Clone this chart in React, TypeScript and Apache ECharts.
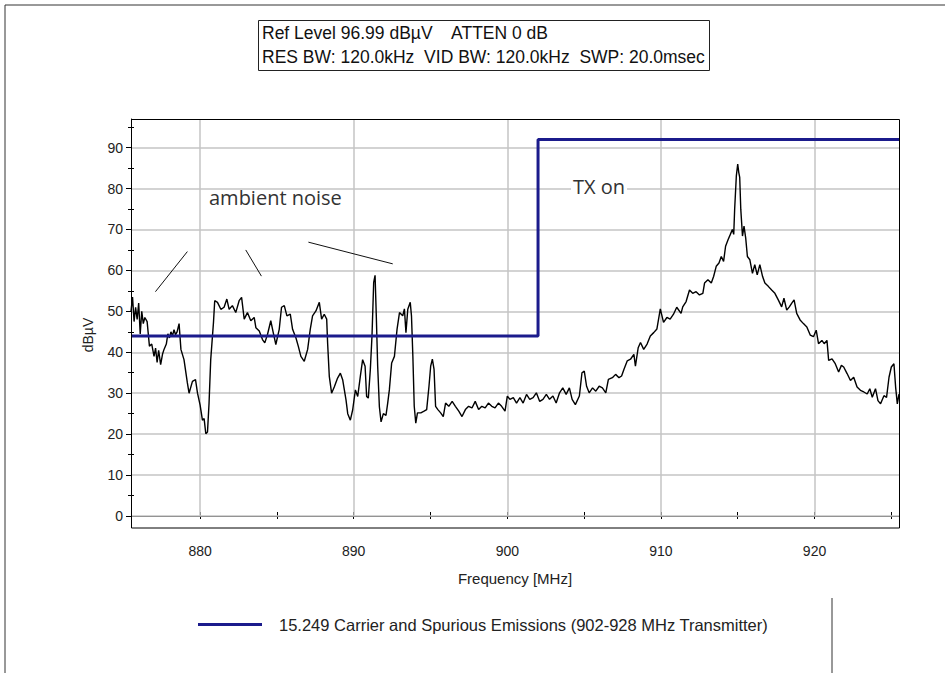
import React, { useEffect, useRef } from "react";
import * as echarts from "echarts";

// ---- Data ----
const limitName = "15.249 Carrier and Spurious Emissions (902-928 MHz Transmitter)";
const limitFreq = [875.5, 902, 902, 925.5];
const limitLevel = [44, 44, 92, 92];

const xLabelValues = [880, 890, 900, 910, 920];
const xTickValues = [880, 885, 890, 895, 900, 905, 910, 915, 920, 925];
const yLabelValues = [0, 10, 20, 30, 40, 50, 60, 70, 80, 90];
const yMinorValues = [5, 15, 25, 35, 45, 55, 65, 75, 85, 95];

const traceFreq = [
  875.5, 875.6, 875.7, 875.8, 875.9, 876.0, 876.1, 876.2, 876.3, 876.4, 876.55, 876.7, 876.85, 877.0, 877.1,
  877.2, 877.3, 877.43, 877.55, 877.65, 877.8, 877.9, 878.0, 878.1, 878.2, 878.3, 878.4, 878.5, 878.63, 878.75,
  878.95, 879.17, 879.28, 879.5, 879.7, 879.83, 880.0, 880.15, 880.26, 880.37, 880.48, 880.58, 880.69, 880.87, 880.95,
  881.13, 881.35, 881.56, 881.74, 881.89, 882.1, 882.32, 882.54, 882.7, 882.87, 883.08, 883.3, 883.52, 883.63, 883.85,
  884.06, 884.21, 884.39, 884.6, 884.76, 884.93, 885.15, 885.3, 885.48, 885.65, 885.87, 886.02, 886.24, 886.39, 886.56,
  886.78, 887.0, 887.17, 887.32, 887.54, 887.76, 887.91, 888.08, 888.24, 888.3, 888.41, 888.56, 888.74, 888.95, 889.13,
  889.28, 889.39, 889.5, 889.61, 889.78, 889.93, 890.11, 890.26, 890.43, 890.58, 890.74, 890.84, 890.95, 891.08, 891.19,
  891.3, 891.39, 891.47, 891.56, 891.67, 891.78, 891.93, 892.1, 892.21, 892.32, 892.47, 892.65, 892.82, 892.98, 893.19,
  893.3, 893.4, 893.52, 893.68, 893.76, 893.85, 893.94, 894.04, 894.15, 894.37, 894.58, 894.75, 894.9, 895.01, 895.12,
  895.23, 895.33, 895.48, 895.66, 895.83, 895.98, 896.19, 896.41, 896.62, 896.84, 897.05, 897.27, 897.48, 897.7, 897.91,
  898.13, 898.34, 898.56, 898.77, 898.99, 899.2, 899.42, 899.63, 899.85, 900.0, 900.17, 900.39, 900.6, 900.82, 901.03,
  901.25, 901.46, 901.68, 901.89, 902.11, 902.32, 902.54, 902.75, 902.97, 903.18, 903.4, 903.61, 903.83, 904.04, 904.22,
  904.43, 904.69, 904.86, 905.01, 905.16, 905.33, 905.55, 905.76, 905.98, 906.19, 906.41, 906.58, 906.84, 907.05, 907.27,
  907.44, 907.59, 907.81, 908.02, 908.24, 908.34, 908.52, 908.67, 908.88, 909.1, 909.31, 909.53, 909.74, 909.96, 910.17,
  910.39, 910.6, 910.82, 911.03, 911.31, 911.42, 911.64, 911.86, 912.07, 912.29, 912.51, 912.73, 912.84, 913.06, 913.28,
  913.43, 913.6, 913.78, 913.93, 914.08, 914.21, 914.37, 914.52, 914.65, 914.74, 914.8, 914.91, 915.0, 915.07, 915.13,
  915.2, 915.31, 915.41, 915.52, 915.63, 915.79, 915.96, 916.11, 916.27, 916.44, 916.62, 916.77, 916.99, 917.21, 917.42,
  917.64, 917.86, 918.01, 918.19, 918.36, 918.52, 918.67, 918.84, 919.06, 919.28, 919.5, 919.72, 919.93, 920.11, 920.26,
  920.48, 920.63, 920.81, 920.92, 921.14, 921.35, 921.57, 921.75, 921.9, 922.12, 922.34, 922.55, 922.77, 922.99, 923.21,
  923.43, 923.6, 923.76, 923.97, 924.13, 924.3, 924.52, 924.69, 924.85, 925.0, 925.17, 925.28, 925.39, 925.5,
];

const traceLevel = [
  50, 53.5, 47.5, 51, 48, 52, 44.5, 50, 47, 48.5, 47.5, 41.5, 42, 39, 41,
  37.5, 40.5, 37, 39.5, 40.7, 42, 44.5, 43.5, 45, 44, 45.5, 44.3, 45, 47, 40.7,
  38.2, 32.5, 30, 32.9, 33.3, 30, 27.1, 23.4, 23.8, 20.1, 20.5, 27.5, 38.2, 47.3, 52.6,
  52.2, 50.5, 51, 53, 50.5, 51.4, 49.7, 52.6, 53.4, 48.1, 49.7, 47.7, 48.5, 46, 45.2,
  43.1, 42.3, 44.4, 47.7, 44.8, 41.9, 45.6, 51, 51.4, 48.9, 49.3, 45.6, 43.5, 41.5, 39,
  37.8, 40.7, 45.6, 48.9, 50.1, 52.2, 48.1, 49.3, 48.1, 42.3, 34.1, 30, 31.6, 33.7, 34.9,
  33.3, 30.8, 28.3, 25, 23.4, 25.9, 30.8, 29.2, 34.1, 38.2, 36.6, 29.2, 28.8, 35.7, 44,
  57.1, 58.8, 48.9, 36.6, 26.7, 23, 25, 24.6, 27.5, 30.8, 37.4, 39, 45.6, 49.7, 48.9,
  50.6, 44.8, 50.5, 52.2, 48.9, 39.1, 26.8, 22.7, 25.2, 25.2, 25.6, 26, 31.7, 36.6, 38.3,
  35.8, 26.8, 26, 25.2, 24.3, 27.6, 26.8, 28, 26.8, 25.6, 24.3, 26, 26.8, 26.4, 28,
  26, 26.8, 26.4, 27.6, 26.8, 26.4, 27.6, 26.8, 25.6, 29.3, 28.5, 28.9, 27.6, 28.9, 27.6,
  29.7, 28.5, 28.9, 30.1, 28, 28.5, 29.7, 28.5, 29.3, 27.6, 30.1, 31.3, 29.7, 31.3, 28.5,
  27.2, 29.3, 35, 35.4, 31.7, 30.1, 31.3, 30.5, 31.7, 31.3, 30.1, 33.4, 33.8, 34.6, 33.8,
  34.2, 35.8, 37.9, 38.3, 39.5, 36.6, 41.1, 42.4, 40.7, 42, 44, 44.8, 45.7, 50.6, 47.3,
  48.5, 48.1, 49.3, 51, 49.5, 51.1, 52.4, 55.2, 54.4, 54.8, 54, 54.4, 56.9, 57.7, 56.9,
  58.5, 61, 61.8, 63.4, 62.2, 65.9, 67.5, 68.8, 70, 68.8, 74.9, 83.1, 86, 83.9, 82.7,
  74.9, 68.4, 70.8, 67.9, 63.4, 62.6, 59.3, 61.4, 58.9, 61.4, 58.5, 56.9, 56.1, 55.2, 54.4,
  52.8, 51.1, 53.2, 50.3, 51.1, 52, 52.8, 49.5, 47.9, 47, 46.2, 44.2, 43.8, 45.4, 42.1,
  42.9, 42.1, 42.9, 38, 38.4, 37.2, 35.2, 36.8, 36.4, 34.8, 33.1, 33.9, 31.5, 30.7, 30.3,
  29.8, 31.1, 29, 31.1, 28.2, 27.4, 29.4, 29, 33.9, 36.4, 37.2, 31.5, 27.4, 29.8,
];

// annotation pointer lines (data coordinates)
const pointerLines = [
  [[877.09, 54.8], [879.17, 64.6]],
  [[882.97, 65.0], [883.99, 58.6]],
  [[887.05, 66.9], [892.54, 61.6]],
];

const FONT = "'Liberation Sans', Arial, sans-serif";
const NOTE_FONT = "'Open Sans', sans-serif";
const X_MIN = 875.5;
const X_MAX = 925.5;
const Y_MIN = 0;
const Y_MAX = 96.99;

export default function App() {
  const ref = useRef<HTMLDivElement>(null);

  useEffect(() => {
    if (!ref.current) return;
    const chart = echarts.init(ref.current, undefined, { renderer: "svg" });

    const gridMarks: any[] = [
      ...xLabelValues.map((v) => ({ xAxis: v })),
      ...yLabelValues.map((v) => ({ yAxis: v })),
    ];

    const baseX = {
      type: "value",
      min: X_MIN,
      max: X_MAX,
      position: "bottom",
      splitLine: { show: false },
    };
    const baseY = {
      type: "value",
      min: Y_MIN,
      max: Y_MAX,
      position: "left",
      splitLine: { show: false },
    };

    const option: any = {
      animation: false,
      backgroundColor: "#ffffff",
      grid: { left: 131, top: 119, width: 768, height: 397, containLabel: false },
      xAxis: [
        {
          ...baseX,
          axisLine: { show: true, onZero: false, lineStyle: { color: "#000", width: 1 } },
          axisTick: { show: true, customValues: xTickValues, length: 3, inside: false, lineStyle: { color: "#000" } },
          axisLabel: { show: true, customValues: xLabelValues, margin: 28, color: "#222", fontSize: 14, fontFamily: FONT },
          name: "Frequency [MHz]",
          nameLocation: "middle",
          nameGap: 55,
          nameTextStyle: { color: "#222", fontSize: 15, fontFamily: FONT },
        },
        {
          ...baseX,
          axisLine: { show: false, onZero: false },
          axisTick: { show: true, customValues: xTickValues, length: 4, inside: true, lineStyle: { color: "#000" } },
          axisLabel: { show: false },
        },
      ],
      yAxis: [
        {
          ...baseY,
          axisLine: { show: true, onZero: false, lineStyle: { color: "#000", width: 1 } },
          axisTick: { show: true, customValues: yLabelValues, length: 5, inside: false, lineStyle: { color: "#000" } },
          axisLabel: { show: true, customValues: yLabelValues, margin: 8, color: "#222", fontSize: 14, fontFamily: FONT },
        },
        {
          ...baseY,
          axisLine: { show: false, onZero: false },
          axisTick: { show: true, customValues: yMinorValues, length: 3, inside: false, lineStyle: { color: "#000" } },
          axisLabel: { show: false },
        },
        {
          ...baseY,
          axisLine: { show: false, onZero: false },
          axisTick: { show: true, customValues: yMinorValues, length: 3, inside: true, lineStyle: { color: "#000" } },
          axisLabel: { show: false },
        },
      ],
      legend: {
        show: true,
        data: [limitName],
        left: 193,
        top: 611,
        icon: "rect",
        itemWidth: 64,
        itemHeight: 3,
        selectedMode: false,
        textStyle: { color: "#222", fontSize: 16.5, fontFamily: FONT, padding: [0, 0, 0, 12] },
      },
      series: [
        {
          type: "line",
          name: "grid",
          data: [],
          silent: true,
          z: 1,
          markLine: {
            silent: true,
            z: 1,
            symbol: ["none", "none"],
            label: { show: false },
            lineStyle: { color: "#c4c4c4", width: 1.5, type: "solid" },
            emphasis: { disabled: true },
            data: gridMarks,
          },
        },
        {
          type: "line",
          name: "trace",
          xAxisIndex: 0,
          yAxisIndex: 0,
          z: 6,
          showSymbol: false,
          symbol: "none",
          silent: true,
          lineStyle: { color: "#000", width: 1.4 },
          data: traceFreq.map((f, i) => [f, traceLevel[i]]),
          markLine: {
            silent: true,
            z: 7,
            symbol: ["none", "none"],
            label: { show: false },
            lineStyle: { color: "#111", width: 1, type: "solid" },
            emphasis: { disabled: true },
            data: pointerLines.map((p) => [{ coord: p[0] }, { coord: p[1] }]),
          },
        },
        {
          type: "line",
          name: limitName,
          xAxisIndex: 0,
          yAxisIndex: 0,
          z: 8,
          showSymbol: false,
          symbol: "none",
          silent: true,
          color: "#1b1b8c",
          lineStyle: { color: "#1b1b8c", width: 3 },
          data: limitFreq.map((f, i) => [f, limitLevel[i]]),
        },
      ],
      graphic: [
        { type: "line", shape: { x1: 5, y1: 5, x2: 945, y2: 5 }, style: { stroke: "#333", lineWidth: 1 }, silent: true },
        { type: "line", shape: { x1: 5, y1: 5, x2: 5, y2: 673 }, style: { stroke: "#333", lineWidth: 1 }, silent: true },
        { type: "line", shape: { x1: 832, y1: 598, x2: 832, y2: 673 }, style: { stroke: "#333", lineWidth: 1 }, silent: true },
        { type: "rect", shape: { x: 258.5, y: 20.5, width: 451, height: 50 }, style: { fill: "none", stroke: "#222", lineWidth: 1 }, silent: true },
        { type: "text", left: 262, top: 24, style: { text: "Ref Level 96.99 dBµV    ATTEN 0 dB", fill: "#111", font: `17.5px ${FONT}` }, silent: true },
        { type: "text", left: 262, top: 48, style: { text: "RES BW: 120.0kHz  VID BW: 120.0kHz  SWP: 20.0msec", fill: "#111", font: `17.5px ${FONT}` }, silent: true },
        { type: "rect", z: 20, shape: { x: 131.5, y: 119.5, width: 768, height: 408.5 }, style: { fill: "none", stroke: "#000", lineWidth: 1 }, silent: true },
        { type: "text", x: 88, y: 335, rotation: Math.PI / 2, style: { text: "dBµV", fill: "#222", font: `14px ${FONT}`, align: "center", verticalAlign: "middle" }, silent: true },
        { type: "text", z: 10, left: 209, top: 187, style: { text: "ambient noise", fill: "#333", font: `20px ${NOTE_FONT}` }, silent: true },
        { type: "text", z: 10, left: 571, top: 176, style: { text: "TX on", fill: "#333", font: `20px ${NOTE_FONT}`, backgroundColor: "#fff", padding: [0, 2] }, silent: true },
      ],
    };

    chart.setOption(option);
    return () => chart.dispose();
  }, []);

  return (
    <div
      ref={ref}
      style={{ position: "fixed", left: 0, top: 0, width: 945, height: 673, background: "#fff" }}
    />
  );
}
